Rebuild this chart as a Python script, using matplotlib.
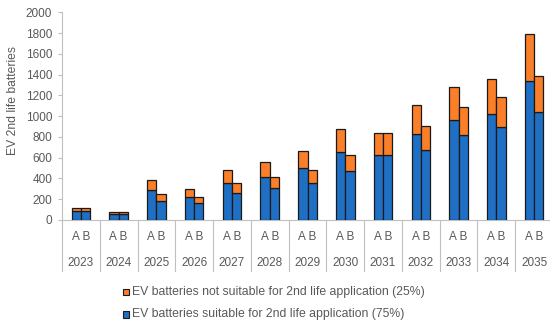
import matplotlib
matplotlib.use("Agg")
import matplotlib.pyplot as plt
from matplotlib.patches import Rectangle
import matplotlib.transforms as mtrans

plt.rcParams['font.family'] = ['Liberation Sans', 'DejaVu Sans']

years = ["2023", "2024", "2025", "2026", "2027", "2028", "2029", "2030",
         "2031", "2032", "2033", "2034", "2035"]
suitable_A = [90, 60, 289, 225, 353, 417, 498, 658, 626, 825, 960, 1021, 1339]
not_suitable_A = [30, 20, 96, 77, 125, 141, 169, 221, 212, 279, 321, 340, 449]
suitable_B = [90, 60, 185, 161, 257, 311, 359, 469, 626, 677, 815, 893, 1040]
not_suitable_B = [30, 20, 62, 57, 96, 106, 119, 160, 212, 225, 270, 294, 350]
yticks = list(range(0, 2001, 200))
legend_labels = ["EV batteries not suitable for 2nd life application (25%)",
                 "EV batteries suitable for 2nd life application (75%)"]

blue = "#1F6FC5"
orange = "#FA7F28"
gray_txt = "#595959"
gray_line = "#BFBFBF"

W, H = 550, 328
fig = plt.figure(figsize=(W / 100, H / 100), dpi=100)
ax_l, ax_r, ax_t, ax_b = 62, 553, 12.3, 220
ax = fig.add_axes([ax_l / W, 1 - ax_b / H, (ax_r - ax_l) / W, (ax_b - ax_t) / H])

w = 0.245
xs = list(range(len(years)))
xa = [x - w / 2 for x in xs]
xb = [x + w / 2 for x in xs]
kw = dict(width=w, edgecolor="#1a1a1a", linewidth=0.9, zorder=3)
ax.bar(xa, suitable_A, color=blue, **kw)
ax.bar(xa, not_suitable_A, bottom=suitable_A, color=orange, **kw)
ax.bar(xb, suitable_B, color=blue, **kw)
ax.bar(xb, not_suitable_B, bottom=suitable_B, color=orange, **kw)

ax.set_xlim(-0.5, len(years) - 0.5)
ax.set_ylim(0, 2000)
ax.set_yticks(yticks)
ax.tick_params(axis='y', colors=gray_line, labelcolor=gray_txt, labelsize=8.5,
               length=3, width=0.8, pad=4)
ax.set_xticks([])
for s in ["top", "right"]:
    ax.spines[s].set_visible(False)
for s in ["left", "bottom"]:
    ax.spines[s].set_color(gray_line)
    ax.spines[s].set_linewidth(0.8)

fig.text(13 / W, 1 - 101 / H, "EV 2nd life batteries", rotation=90,
         ha="center", va="center", color=gray_txt, fontsize=8.7)

trans = mtrans.blended_transform_factory(ax.transData, ax.transAxes)
px = 1 / (ax_b - ax_t)
for i in range(len(years) + 1):
    ax.plot([i - 0.5, i - 0.5], [0, -51 * px], transform=trans, color=gray_line,
            lw=0.8, clip_on=False)
for i, yr in enumerate(years):
    ax.text(i, -16.7 * px, "A B", transform=trans, ha="center", va="center",
            fontsize=8.5, color=gray_txt)
    ax.text(i, -42.5 * px, yr, transform=trans, ha="center", va="center",
            fontsize=8.5, color=gray_txt)

# legend
for j, (lab, col) in enumerate(zip(legend_labels, [orange, blue])):
    yc = 292 + j * 22.5
    s = 6.5
    fig.patches.append(Rectangle((122.5 / W, 1 - (yc + s / 2) / H), s / W, s / H,
                                 transform=fig.transFigure, facecolor=col,
                                 edgecolor="#1a1a1a", linewidth=0.8))
    fig.text(132.5 / W, 1 - yc / H, lab, ha="left", va="center", fontsize=8.8,
             color=gray_txt)

fig.savefig("out.png", dpi=100)
